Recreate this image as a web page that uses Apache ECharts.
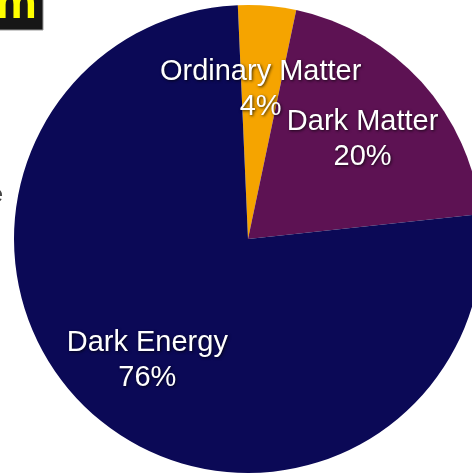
<!DOCTYPE html>
<html><head><meta charset="utf-8">
<script src="https://cdn.jsdelivr.net/npm/echarts@6/dist/echarts.min.js"></script>
<style>html,body{margin:0;padding:0;background:#fff;}#c{width:472px;height:475px;}</style>
</head><body><div id="c"></div>
<script>
const categories = ['Ordinary Matter', 'Dark Matter', 'Dark Energy'];
const values = [4, 20, 76];
const colors = ['#f5a400', '#5d1253', '#0b0956'];

const total = values.reduce((a, b) => a + b, 0);
const data = categories.map((n, i) => ({ name: n, value: values[i], itemStyle: { color: colors[i] } }));
// label anchors: middle of each slice (in value units along the angle axis)
let acc = 0;
const labelData = categories.map((n, i) => {
  const mid = acc + values[i] / 2;
  acc += values[i];
  return { name: n, pct: values[i], value: [0.66, mid] };
});

const CENTER = [248, 239];
const R = 234;
const START = 92.5;

const chart = echarts.init(document.getElementById('c'), null, { renderer: 'canvas' });
chart.setOption({
  animation: false,
  backgroundColor: '#ffffff',
  polar: { center: CENTER, radius: R },
  angleAxis: { type: 'value', min: 0, max: total, startAngle: START, clockwise: true, show: false },
  radiusAxis: { type: 'value', min: 0, max: 1, show: false },
  graphic: [
    { type: 'rect', shape: { x: -2, y: -2, width: 45, height: 32 }, style: { fill: '#161616', stroke: '#9a9a9a', lineWidth: 1 } },
    { type: 'text', style: { text: 'm', x: -4, y: 5, font: 'bold 46px "Liberation Sans", Arial, sans-serif', fill: '#ffff00', verticalAlign: 'middle' }, z: 10 },
    { type: 'text', style: { text: 'e', x: 3, y: 195, font: '24px "Liberation Sans", Arial, sans-serif', fill: '#444', align: 'right', verticalAlign: 'middle' } }
  ],
  series: [
    {
      type: 'pie',
      center: CENTER,
      radius: [0, R],
      startAngle: START,
      clockwise: true,
      label: { show: false },
      labelLine: { show: false },
      silent: true,
      data: data
    },
    {
      type: 'scatter',
      coordinateSystem: 'polar',
      symbolSize: 0,
      silent: true,
      itemStyle: { color: 'rgba(0,0,0,0)', opacity: 1 },
      label: {
        show: true,
        position: 'inside',
        offset: [0, 4],
        formatter: p => p.name + '\n' + p.data.pct + '%',
        color: '#ffffff',
        opacity: 1,
        fontFamily: '"Liberation Sans", Arial, sans-serif',
        fontSize: 29,
        lineHeight: 35,
        align: 'center',
        verticalAlign: 'middle',
        textShadowColor: 'rgba(0,0,0,0.75)',
        textShadowBlur: 3,
        textShadowOffsetX: 1,
        textShadowOffsetY: 1
      },
      data: labelData
    }
  ]
});
</script></body></html>
